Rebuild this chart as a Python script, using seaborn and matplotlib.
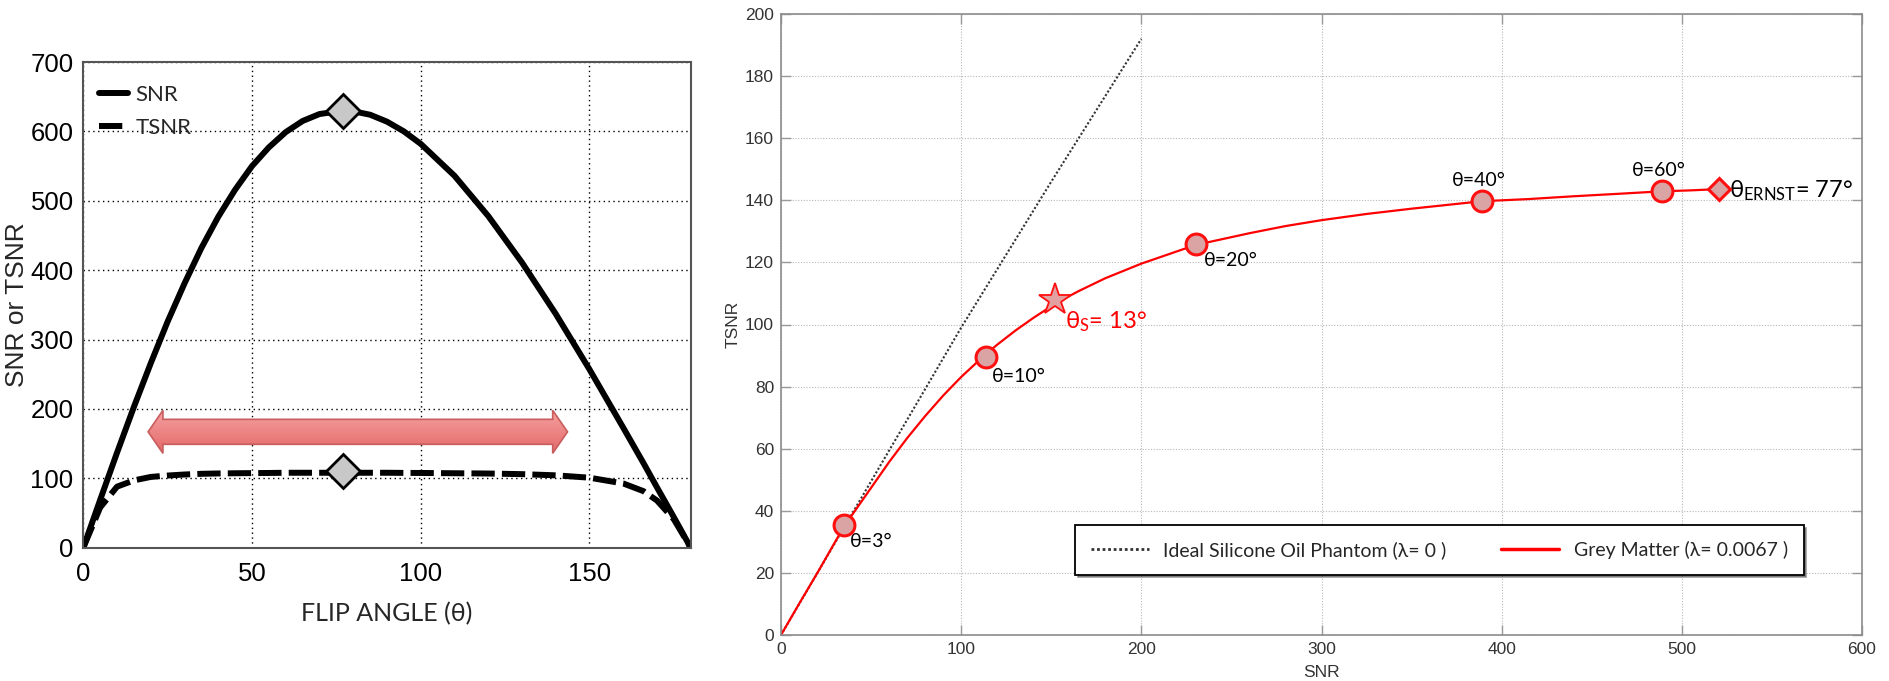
import numpy as np
import pandas as pd
import matplotlib
matplotlib.use("Agg")
import matplotlib.pyplot as plt
from matplotlib.patches import Polygon
import seaborn as sns

# ---- left panel: SNR / TSNR versus flip angle ----
flip_angle = [0, 5, 10, 15, 20, 25, 30, 35, 40, 45, 50, 55, 60, 65, 70, 77,
              80, 85, 90, 95, 100, 110, 120, 130, 140, 150, 160, 166, 170, 175, 180]
snr = [0, 69, 137, 203, 266, 326, 381, 432, 477, 516, 550, 577, 599, 615, 625, 630,
       629, 624, 614, 600, 582, 536, 478, 411, 337, 257, 173, 122, 87, 44, 0]
tsnr = [0, 58, 88, 97, 102, 104, 105.5, 106.5, 107, 107.3, 107.5, 107.7, 108, 108, 108, 108,
        108, 108, 108, 107.8, 107.7, 107.3, 106.9, 106, 104.3, 100.9, 92.6, 81.5, 68, 41, 0]
ernst_angle = 77
ernst_snr = 630
ernst_tsnr = 111

# range arrow (flip angles where TSNR is near its plateau)
arrow_from, arrow_to, arrow_level = 19.2, 143.5, 167

# ---- right panel: TSNR versus SNR ----
phantom_snr = [0, 100, 150, 200]
phantom_tsnr = [0, 99, 146, 192]

gm_snr = [0, 10, 20, 35, 50, 60, 70, 80, 90, 100, 113, 120, 130, 140, 153, 165, 180, 200,
          215, 230, 245, 260, 280, 300, 325, 350, 389, 415, 440, 465, 489, 505, 520]
gm_tsnr = [0, 10, 19.8, 35, 47.4, 55.7, 63.4, 70.5, 77.1, 83.1, 90.1, 93.5, 98, 102.1, 107,
           110.7, 114.9, 119.6, 122.6, 125.6, 127.5, 129.4, 131.7, 133.6, 135.6, 137.3, 139.7,
           140.4, 141.3, 142.1, 142.9, 143.2, 143.6]

pt_labels = ['θ=3°', 'θ=10°', 'θ=20°', 'θ=40°', 'θ=60°']
pt_snr = [34.7, 114, 230.5, 388.9, 488.9]
pt_tsnr = [35.4, 89.5, 125.9, 139.9, 143.0]
label_snr = [38.5, 116.9, 234.5, 372.6, 472.2]
label_tsnr = [30, 83.2, 120.6, 146.5, 149.5]

star_snr, star_tsnr = 152.3, 108
ernst_pt_snr, ernst_pt_tsnr = 520.4, 143.7

sns.set_theme(style="white")
plt.rcParams['font.family'] = ['Liberation Sans', 'DejaVu Sans']
plt.rcParams['mathtext.default'] = 'regular'

fig = plt.figure(figsize=(18.89, 6.81), dpi=100)
ax1 = fig.add_axes([83.3 / 1889, (681 - 547.7) / 681, 607.4 / 1889, 485.7 / 681])
ax2 = fig.add_axes([781 / 1889, (681 - 635) / 681, 1081 / 1889, 621 / 681])

soft = ['Lato', 'DejaVu Sans']

# ---------------- left ----------------
left = pd.DataFrame({'angle': flip_angle, 'SNR': snr, 'TSNR': tsnr})
sns.lineplot(data=left, x='angle', y='SNR', ax=ax1, color='black', lw=4.3,
             sort=False, label='SNR')
sns.lineplot(data=left, x='angle', y='TSNR', ax=ax1, color='black', lw=4.3,
             sort=False, linestyle=(0, (3.9, 1.2)), label='TSNR')
ax1.plot([ernst_angle, ernst_angle], [ernst_snr, ernst_tsnr], ls='none', marker='D',
         ms=17, mfc='#c8c8c8', mec='black', mew=2, zorder=5)

ax1.set_xlim(0, 180)
ax1.set_ylim(0, 700)
ax1.set_xticks([0, 50, 100, 150])
ax1.set_yticks(range(0, 701, 100))
ax1.grid(True, color='black', ls=(0, (1, 2.5)), lw=1)
ax1.tick_params(axis='both', labelsize=18.5, length=0, pad=7, colors='black')
ax1.tick_params(axis='x', pad=10)
for s in ax1.spines.values():
    s.set_color('#555555')
    s.set_linewidth(1.5)
ax1.set_xlabel('FLIP ANGLE (θ)', fontsize=18, family=soft, labelpad=12)
ax1.set_ylabel('SNR or TSNR', fontsize=19)
ax1.yaxis.set_label_coords(-0.09, 0.5)
leg1 = ax1.legend(loc='upper left', bbox_to_anchor=(0.0, 0.985), frameon=False,
                  prop={'family': soft, 'size': 16}, handlelength=1.3,
                  handletextpad=0.35, labelspacing=0.6, borderaxespad=0.3)

# double headed arrow with vertical gradient
shaft, head, head_len = 18, 31, 4.4
xs = [arrow_from, arrow_from + head_len, arrow_from + head_len, arrow_to - head_len,
      arrow_to - head_len, arrow_to, arrow_to - head_len, arrow_to - head_len,
      arrow_from + head_len, arrow_from + head_len]
ys = [arrow_level, arrow_level + head, arrow_level + shaft, arrow_level + shaft,
      arrow_level + head, arrow_level, arrow_level - head, arrow_level - shaft,
      arrow_level - shaft, arrow_level - head]
arrow = Polygon(list(zip(xs, ys)), closed=True, fc='none', ec='#c95d5d', lw=1.2, zorder=4)
ax1.add_patch(arrow)
grad = np.linspace(0, 1, 64).reshape(-1, 1)
cmap = matplotlib.colors.LinearSegmentedColormap.from_list('arr', ['#f6a3a3', '#e46868'])
img = ax1.imshow(grad, cmap=cmap, aspect='auto', origin='upper',
                 extent=(arrow_from, arrow_to, arrow_level - head, arrow_level + head), zorder=3)
img.set_clip_path(arrow)
ax1.set_xlim(0, 180)
ax1.set_ylim(0, 700)

# ---------------- right ----------------
sns.lineplot(x=phantom_snr, y=phantom_tsnr, ax=ax2, color='#333333', lw=1.5,
             linestyle=(0, (1, 1)), sort=False, label='Ideal Silicone Oil Phantom (λ= 0 )')
sns.lineplot(x=gm_snr, y=gm_tsnr, ax=ax2, color='#ff0000', lw=1.6, sort=False,
             label='Grey Matter (λ= 0.0067 )')
ax2.plot(pt_snr, pt_tsnr, ls='none', marker='o', ms=15, mfc='#dba4a4', mec='#ff1010',
         mew=2.2, zorder=5)
ax2.plot([star_snr], [star_tsnr], ls='none', marker='*', ms=24, mfc='#e3a0a0',
         mec='#ff1010', mew=1.3, zorder=5)
ax2.plot([ernst_pt_snr], [ernst_pt_tsnr], ls='none', marker='D', ms=11, mfc='#d9a3a3',
         mec='#ff1010', mew=2.2, zorder=5)

for lab, x, y in zip(pt_labels, label_snr, label_tsnr):
    ax2.text(x, y, lab, fontsize=14, family=soft, ha='left', va='center', color='black')
ax2.text(157.6, 101, 'θ$_{S}$= 13°', fontsize=17, family=soft, ha='left', va='center',
         color='#ff0000')
ax2.text(526, 143, 'θ$_{ERNST}$= 77°', fontsize=17, family=soft, ha='left', va='center',
         color='black')

ax2.set_xlim(0, 600)
ax2.set_ylim(0, 200)
ax2.set_xticks(range(0, 601, 100))
ax2.set_yticks(range(0, 201, 20))
ax2.grid(True, color='#b8b8b8', ls=(0, (1, 1.5)), lw=0.8)
ax2.tick_params(axis='both', labelsize=12.5, direction='in', length=7, width=1,
                colors='#999999', labelcolor='#333333', pad=5,
                top=True, right=True, bottom=True, left=True)
for s in ax2.spines.values():
    s.set_color('#8c8c8c')
    s.set_linewidth(1.2)
ax2.set_xlabel('SNR', fontsize=12.5, color='#333333', labelpad=6)
ax2.set_ylabel('TSNR', fontsize=12.5, color='#333333')
ax2.yaxis.set_label_coords(-0.037, 0.5)
leg2 = ax2.legend(loc='center', bbox_to_anchor=(0.609, 0.137), ncol=2, frameon=True,
                  fancybox=False, shadow=True, prop={'family': soft, 'size': 14},
                  handlelength=3.0, columnspacing=2.8, handletextpad=0.75, borderpad=0.8)
leg2.get_frame().set_edgecolor('black')
leg2.get_frame().set_linewidth(1.3)
for line in leg2.get_lines():
    line.set_linewidth(2.5 if line.get_color() == '#ff0000' else 2)

fig.savefig('out.png', dpi=100)
